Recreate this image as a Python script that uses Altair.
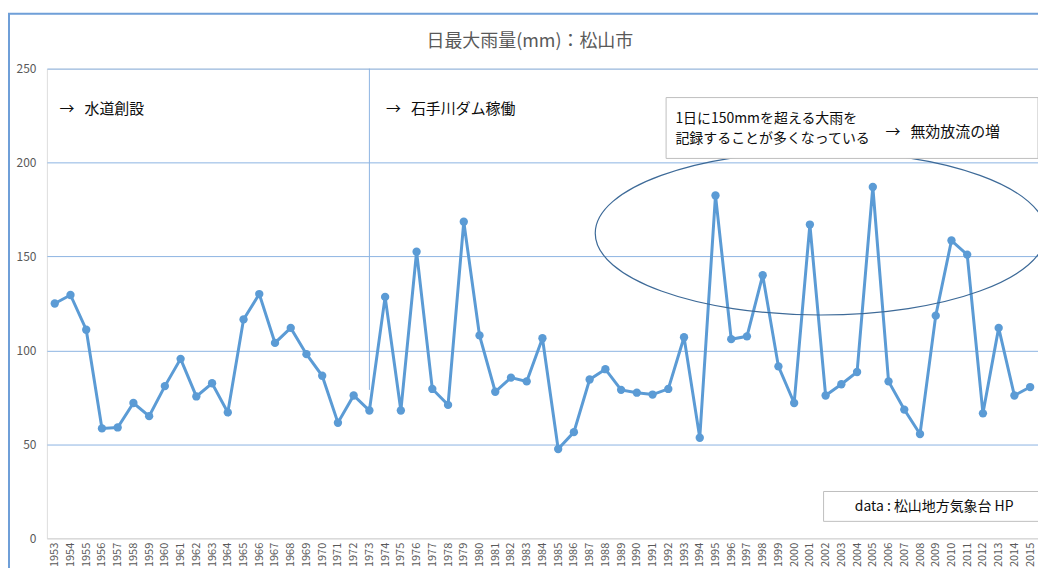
import altair as alt
import pandas as pd

# ---- data ----
years = list(range(1953, 2016))
rain = [125, 129.5, 111, 58.5, 59, 72, 65, 81, 95.5, 75.5,
        82.5, 67, 116.5, 130, 104, 112, 98, 86.5, 61.5, 76,
        68, 128.5, 68, 152.5, 79.5, 71, 168.5, 108, 78, 85.5,
        83.5, 106.5, 47.5, 56.5, 84.5, 90, 79, 77.5, 76.5, 79.5,
        107, 53.5, 182.5, 106, 107.5, 140, 91.5, 72, 167, 76,
        82, 88.5, 187, 83.5, 68.5, 55.5, 118.5, 158.5, 151, 66.5,
        112, 76, 80.5]

NB = "\u00a0"
title_text = ["日最大雨量(mm)：松山市"]
title_x, title_y = [1983.2], [264.3]

note_texts = ["→" + NB * 3 + "水道創設", "→" + NB * 3 + "石手川ダム稼働"]
note_x = [1953.3, 1974.05]
note_y = [228.5, 228.5]

box_lines = ["1日に150mmを超える大雨を", "記録することが多くなっている"]
box_line_x = [1992.45, 1992.45]
box_line_y = [223.3, 212.3]
box_arrow = ["→" + NB * 3 + "無効放流の増"]
box_arrow_x = [2005.8]
box_arrow_y = [216.0]
box_x, box_x2, box_y, box_y2 = [1991.86], [2015.5], [234.6], [202.2]

src_text = ["data : 松山地方気象台 HP"]
src_x, src_x2, src_y, src_y2 = [2001.87], [2016.5], [24.9], [9.0]
src_tx, src_ty = [2008.9], [16.5]

dam_year = [1973]
dam_top, dam_bottom = [250], [79]

ellipse_x, ellipse_y = [2001.68], [162.4]

FONT = "Noto Sans CJK JP"
LINE_BLUE = "#5b9bd5"
GRID_BLUE = "#8db4e2"

df = pd.DataFrame({"year": years, "value": rain})

xscale = alt.Scale(domain=[1952.5, 2015.5], nice=False, zero=False)
yscale = alt.Scale(domain=[0, 250], nice=False)

X = alt.X("year:Q", scale=xscale,
          axis=alt.Axis(values=years, tickCount=len(years) + 10, format="d",
                        labelAngle=-90, grid=False,
                        ticks=False, domain=True, domainColor="#d9d9d9",
                        labelColor="#595959", labelFontSize=11, labelFont=FONT,
                        labelPadding=4, labelOverlap=False, labelFlush=False,
                        title=None))
Y = alt.Y("value:Q", scale=yscale,
          axis=alt.Axis(values=[0, 50, 100, 150, 200, 250], grid=True,
                        gridColor=alt.condition("datum.value === 0",
                                                alt.value("#d9d9d9"),
                                                alt.value(GRID_BLUE)),
                        gridWidth=1, domain=False, ticks=False,
                        labelColor="#595959", labelFontSize=12, labelFont=FONT,
                        labelPadding=11, title=None))

line = alt.Chart(df).mark_line(color=LINE_BLUE, strokeWidth=3).encode(x=X, y=Y)
pts = alt.Chart(df).mark_point(color=LINE_BLUE, filled=True, opacity=1, size=70).encode(
    x="year:Q", y="value:Q")

rule = alt.Chart(pd.DataFrame({"year": dam_year, "top": dam_top, "bottom": dam_bottom})).mark_rule(
    color=GRID_BLUE, strokeWidth=1).encode(x="year:Q", y="top:Q", y2="bottom:Q")

ellipse = alt.Chart(pd.DataFrame({"year": ellipse_x, "value": ellipse_y})).mark_point(
    shape="M -1 0 A 1 0.363 0 1 1 1 0 A 1 0.363 0 1 1 -1 0 Z",
    filled=False, stroke="#3d6a98", strokeWidth=1.2, opacity=1, size=452 * 452).encode(
    x="year:Q", y="value:Q")

box = alt.Chart(pd.DataFrame({"x": box_x, "x2": box_x2, "y": box_y, "y2": box_y2})).mark_rect(
    fill="white", stroke="#bfbfbf", strokeWidth=1).encode(x="x:Q", x2="x2:Q", y="y:Q", y2="y2:Q")

box_txt = alt.Chart(pd.DataFrame({"x": box_line_x, "y": box_line_y, "t": box_lines})).mark_text(
    align="left", baseline="middle", font=FONT, fontSize=14, color="#0d0d0d").encode(
    x="x:Q", y="y:Q", text="t:N")

arrow_txt = alt.Chart(pd.DataFrame({"x": box_arrow_x, "y": box_arrow_y, "t": box_arrow})).mark_text(
    align="left", baseline="middle", font=FONT, fontSize=15, color="#0d0d0d").encode(
    x="x:Q", y="y:Q", text="t:N")

notes = alt.Chart(pd.DataFrame({"x": note_x, "y": note_y, "t": note_texts})).mark_text(
    align="left", baseline="middle", font=FONT, fontSize=15, color="#0d0d0d").encode(
    x="x:Q", y="y:Q", text="t:N")

src_box = alt.Chart(pd.DataFrame({"x": src_x, "x2": src_x2, "y": src_y, "y2": src_y2})).mark_rect(
    fill="white", stroke="#bfbfbf", strokeWidth=1).encode(x="x:Q", x2="x2:Q", y="y:Q", y2="y2:Q")
src_txt = alt.Chart(pd.DataFrame({"x": src_tx, "y": src_ty, "t": src_text})).mark_text(
    align="center", baseline="middle", font=FONT, fontSize=14, color="#0d0d0d").encode(
    x="x:Q", y="y:Q", text="t:N")

title = alt.Chart(pd.DataFrame({"x": title_x, "y": title_y, "t": title_text})).mark_text(
    align="center", baseline="middle", font=FONT, fontSize=18, color="#595959").encode(
    x="x:Q", y="y:Q", text="t:N")

frame = alt.Chart(pd.DataFrame({"k": [0]})).mark_rect(
    filled=False, stroke="#6f9fd8", strokeWidth=2).encode(
    x=alt.value(-38), x2=alt.value(1100), y=alt.value(-55), y2=alt.value(600))

chart = alt.layer(frame, rule, line, pts, ellipse, box, box_txt, arrow_txt, notes,
                  src_box, src_txt, title).properties(
    width=994, height=471,
    autosize=alt.AutoSizeParams(type="none"),
    padding={"left": 39, "top": 60, "right": 0, "bottom": 29},
).configure_view(stroke=None).configure(background="white")

chart.save("out.html", embed_options={"renderer": "svg", "actions": False})
